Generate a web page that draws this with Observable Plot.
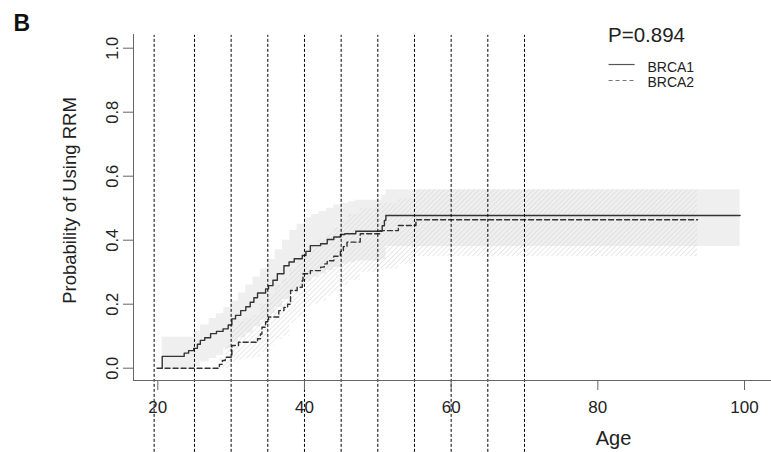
<!DOCTYPE html>
<html><head><meta charset="utf-8">
<script src="https://cdn.jsdelivr.net/npm/d3@7"></script>
<script src="https://cdn.jsdelivr.net/npm/@observablehq/plot@0.6"></script>
<style>
html,body{margin:0;padding:0;background:#fff;}
#chart{width:771px;height:452px;overflow:hidden;}
</style></head><body><div id="chart"></div>
<script>
// ---- data ----
const panelLabel = "B";
const pValueText = "P=0.894";
const seriesNames = ["BRCA1", "BRCA2"];
const xTicks = [20, 40, 60, 80, 100];
const yTicks = [0, 0.2, 0.4, 0.6, 0.8, 1.0];
const cutAges = [19.5, 25, 30, 35, 40, 45, 50, 55, 60, 65, 70];

const brca1Age = [20.6,20.6,23.6,24.2,24.9,25.4,25.8,26.4,27.2,28.0,28.9,29.6,30.1,30.6,31.3,32.0,32.6,33.1,33.6,34.7,35.1,35.7,36.3,37.2,37.9,38.6,39.7,40.2,40.8,42.2,43.1,44.0,44.9,45.5,47.0,50.6,50.9,51.1,99.4];
const brca1Prob = [0,0.037,0.047,0.055,0.062,0.075,0.087,0.095,0.108,0.115,0.123,0.135,0.154,0.165,0.180,0.192,0.206,0.220,0.235,0.248,0.258,0.275,0.295,0.320,0.332,0.342,0.352,0.365,0.383,0.389,0.402,0.410,0.418,0.420,0.428,0.445,0.462,0.477,0.477];

const brca2Age = [19.9,28.4,28.8,29.2,30.1,31.0,33.6,34.0,34.2,34.7,35.1,36.5,37.2,37.7,38.1,39.0,39.7,39.8,40.8,42.2,42.7,43.1,44.0,44.9,45.3,45.8,47.6,50.3,52.8,55.2,93.6];
const brca2Prob = [0,0.012,0.024,0.034,0.071,0.081,0.092,0.107,0.128,0.145,0.160,0.180,0.190,0.200,0.243,0.253,0.274,0.295,0.305,0.316,0.326,0.336,0.350,0.365,0.380,0.394,0.420,0.430,0.446,0.464,0.464];

const brca1BandAge = [20.6,25.0,25.8,27.0,28.0,29.0,30.0,31.0,32.0,33.0,34.0,35.0,36.0,37.0,38.0,39.0,40.0,41.0,42.0,43.0,44.0,45.0,46.0,47.0,50.5,51.1,99.4];
const brca1BandHi = [0.097,0.115,0.135,0.155,0.17,0.19,0.21,0.235,0.26,0.285,0.31,0.34,0.37,0.40,0.43,0.45,0.47,0.48,0.49,0.50,0.51,0.515,0.52,0.525,0.54,0.558,0.558];
const brca1BandLo = [0,0.005,0.02,0.03,0.04,0.06,0.08,0.095,0.11,0.13,0.15,0.17,0.19,0.215,0.24,0.255,0.27,0.285,0.295,0.305,0.315,0.325,0.33,0.335,0.34,0.38,0.38];

const brca2BandAge = [19.9,28.4,29.2,30.1,31.0,32.0,33.0,34.0,35.0,36.0,37.0,38.0,39.0,40.0,41.0,42.0,43.0,44.0,45.0,46.0,47.6,50.3,52.8,55.2,93.6];
const brca2BandHi = [0,0.03,0.07,0.13,0.145,0.155,0.165,0.20,0.23,0.26,0.28,0.31,0.34,0.37,0.385,0.40,0.42,0.44,0.46,0.48,0.50,0.515,0.53,0.558,0.558];
const brca2BandLo = [0,0,0,0.02,0.025,0.03,0.035,0.05,0.07,0.09,0.10,0.14,0.16,0.19,0.20,0.21,0.225,0.24,0.26,0.275,0.30,0.31,0.325,0.349,0.349];

// ---- tables built from the arrays ----
const brca1 = brca1Age.map((a, i) => ({age: a, p: brca1Prob[i]}));
const brca2 = brca2Age.map((a, i) => ({age: a, p: brca2Prob[i]}));
const band1 = brca1BandAge.map((a, i) => ({age: a, lo: brca1BandLo[i], hi: brca1BandHi[i]}));
const band2 = brca2BandAge.map((a, i) => ({age: a, lo: brca2BandLo[i], hi: brca2BandHi[i]}));

const lineColor = "#333";
const font = "'Liberation Sans', Arial, Helvetica, sans-serif";

const plot = Plot.plot({
  width: 771,
  height: 452,
  marginTop: 34,
  marginBottom: 72,
  marginLeft: 133,
  marginRight: 0,
  x: {domain: [20, 100], range: [157.3, 744]},
  y: {domain: [0, 1], range: [367.7, 47.7]},
  style: {fontFamily: font, background: "#fff", color: "#222", overflow: "visible"},
  marks: [
    Plot.areaY(band1, {x: "age", y1: "lo", y2: "hi", curve: "step-after", fill: "#efefef"}),
    Plot.areaY(band2, {x: "age", y1: "lo", y2: "hi", curve: "step-after", fill: "url(#hatch)"}),
    Plot.line(brca1, {x: "age", y: "p", curve: "step-after", stroke: lineColor, strokeWidth: 1.4}),
    Plot.line(brca2, {x: "age", y: "p", curve: "step-after", stroke: lineColor, strokeWidth: 1.4, strokeDasharray: "5,3"}),
    Plot.ruleX(cutAges, {y1: -0.263, y2: 1.04, stroke: "#000", strokeWidth: 1, strokeDasharray: "3,2"}),
    Plot.frame({anchor: "left", stroke: "#666"}),
    Plot.frame({anchor: "bottom", stroke: "#666"}),
    Plot.axisX({ticks: xTicks, tickSize: 10, tickPadding: 10, fontSize: 17, label: null, stroke: "#666"}),
    Plot.axisY({ticks: yTicks, tickFormat: d3.format(".1f"), tickSize: 10, tickPadding: 6, tickRotate: -90, fontSize: 16.5, label: null, stroke: "#666"}),
    Plot.text(["Age"], {frameAnchor: "bottom", dx: 161, dy: 64, lineAnchor: "bottom", textAnchor: "middle", fontSize: 20, fill: "#222"}),
    Plot.text(["Probability of Using RRM"], {frameAnchor: "left", dx: -58, dy: -7, rotate: -90, textAnchor: "middle", lineAnchor: "bottom", fontSize: 18.5, fill: "#222"}),
    Plot.text([panelLabel], {frameAnchor: "top-left", dx: -120, dy: -4, lineAnchor: "bottom", textAnchor: "start", fontSize: 23, fontWeight: "bold", fill: "#111"}),
    Plot.text([pValueText], {x: 81.39, y: 1.019, textAnchor: "start", lineAnchor: "bottom", fontSize: 20.5, fill: "#222"}),
    Plot.ruleY([seriesNames[0]], {y: () => 0.949, x1: 81.53, x2: 85.08, stroke: "#555", strokeWidth: 1.2}),
    Plot.ruleY([seriesNames[1]], {y: () => 0.899, x1: 81.53, x2: 85.08, stroke: "#777", strokeWidth: 1.2, strokeDasharray: "4,3"}),
    Plot.text(seriesNames, {x: 86.77, y: (d, i) => 0.926 - i * 0.046, textAnchor: "start", lineAnchor: "bottom", fontSize: 14, fill: "#222"})
  ]
});

d3.select(plot).insert("defs", ":first-child").html(
  '<pattern id="hatch" patternUnits="userSpaceOnUse" width="3.5" height="3.5" patternTransform="rotate(45)">' +
  '<line x1="0" y1="0" x2="0" y2="3.5" stroke="#d6d6d6" stroke-width="1.1"/></pattern>'
);

document.getElementById("chart").appendChild(plot);
</script>
</body></html>
